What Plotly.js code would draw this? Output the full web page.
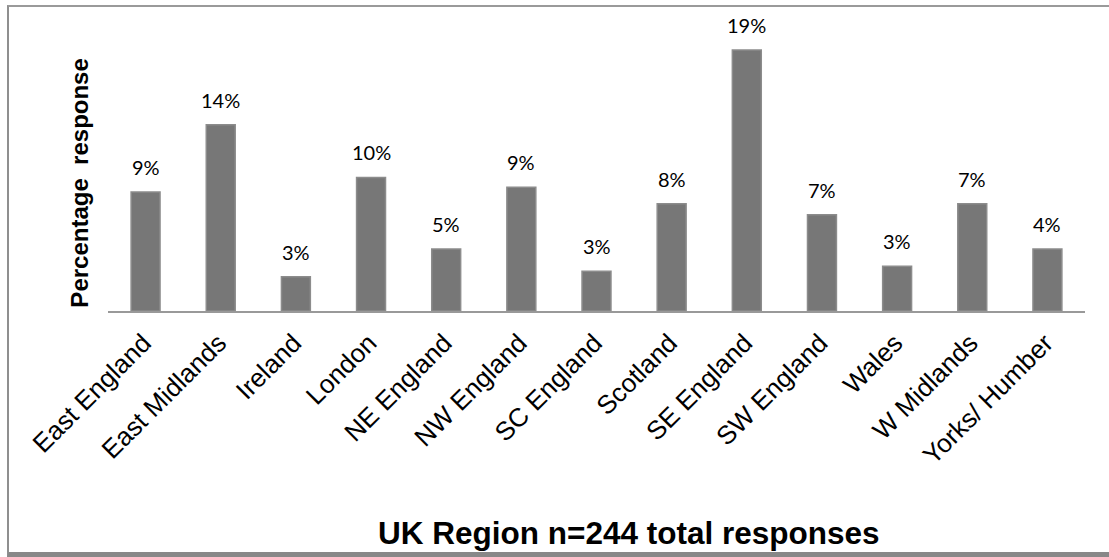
<!DOCTYPE html>
<html>
<head>
<meta charset="utf-8">
<script src="https://cdn.plot.ly/plotly-3.0.1.min.js"></script>
<style>
  html, body { margin: 0; padding: 0; background: #fff; }
  #wrap { position: relative; width: 1109px; height: 557px; overflow: hidden; }
  #chart { position: absolute; left: 0; top: 0; width: 1109px; height: 557px; }
  #frame { position: absolute; left: 7px; top: 5px; width: 1120px; height: 545px;
           border-left: 2px solid #8f8f8f; border-top: 2px solid #9a9a9a;
           border-bottom: 5px solid #888; pointer-events: none; }
</style>
</head>
<body>
<div id="wrap">
  <div id="chart"></div>
  <div id="frame"></div>
</div>
<script>
// Categories (UK regions)
const regions = ["East England", "East Midlands", "Ireland", "London", "NE England",
  "NW England", "SC England", "Scotland", "SE England", "SW England", "Wales",
  "W Midlands", "Yorks/ Humber"];
// Percentage response
const percentValues = [8.6, 13.45, 2.47, 9.65, 4.48, 8.93, 2.87, 7.75, 18.85, 6.96, 3.23, 7.75, 4.48];
// Data labels as printed on the chart
const percentLabels = ["9%", "14%", "3%", "10%", "5%", "9%", "3%", "8%", "19%", "7%", "3%", "7%", "4%"];

const trace = {
  type: "bar",
  x: regions,
  y: percentValues,
  marker: { color: "#777777", line: { color: "#8c8c8c", width: 1.5 } },
  hoverinfo: "x+y"
};

const annotations = regions.map((r, i) => ({
  x: r, y: percentValues[i], xref: "x", yref: "y",
  text: percentLabels[i], showarrow: false,
  yanchor: "bottom", yshift: 11,
  font: { family: "Lato, 'Open Sans', sans-serif", size: 20, color: "#000" }
}));

annotations.push({
  xref: "paper", yref: "paper", x: 0.5335, y: -0.762,
  xanchor: "center", yanchor: "middle", showarrow: false,
  text: "UK Region n=244 total responses",
  font: { family: "'Liberation Sans', Arial, sans-serif", size: 31.5, color: "#000", weight: "bold" }
});
annotations.push({
  xref: "paper", yref: "paper", x: -0.0287, y: 0.441,
  xanchor: "center", yanchor: "middle", showarrow: false, textangle: -90,
  text: "Percentage  response",
  font: { family: "'Liberation Sans', Arial, sans-serif", size: 24, color: "#000", weight: "bold" }
});

const layout = {
  width: 1109, height: 557,
  margin: { l: 108, r: 24, t: 20, b: 245.5 },
  paper_bgcolor: "#fff", plot_bgcolor: "#fff",
  bargap: 0.615,
  showlegend: false,
  xaxis: {
    type: "category",
    tickangle: -45,
    showline: true, linecolor: "#999", linewidth: 1.5,
    showgrid: false, zeroline: false, ticks: "",
    ticklabelstandoff: 5, ticklabelshift: -2,
    tickfont: { family: "'Liberation Sans', Arial, sans-serif", size: 26, color: "#000" }
  },
  yaxis: {
    range: [0, 21.02],
    showticklabels: false, showgrid: false, zeroline: false, showline: false, ticks: ""
  },
  annotations: annotations
};

Plotly.newPlot("chart", [trace], layout, { displayModeBar: false, staticPlot: true });
</script>
</body>
</html>
